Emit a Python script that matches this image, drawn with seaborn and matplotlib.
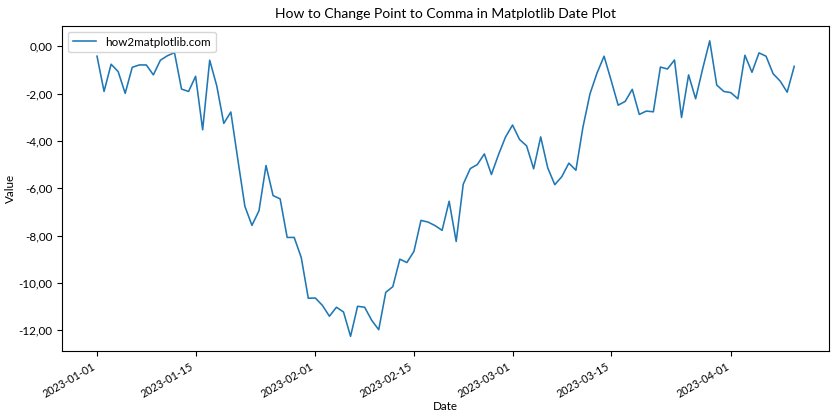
import matplotlib
matplotlib.use("Agg")
import matplotlib.pyplot as plt
import matplotlib.ticker as mticker
import pandas as pd
import seaborn as sns

# daily values, starting 2023-01-01
start_date = "2023-01-01"
values = [
    -0.42, -1.91, -0.76, -1.07, -1.99, -0.89, -0.79, -0.79, -1.21, -0.59,
    -0.40, -0.27, -1.81, -1.91, -1.27, -3.53, -0.59, -1.67, -3.26, -2.78,
    -4.80, -6.77, -7.57, -6.95, -5.04, -6.31, -6.45, -8.08, -8.08, -8.93,
    -10.65, -10.64, -10.95, -11.41, -11.03, -11.23, -12.26, -10.99, -11.03, -11.58,
    -11.98, -10.40, -10.16, -9.00, -9.14, -8.67, -7.36, -7.43, -7.58, -7.78,
    -6.55, -8.25, -5.83, -5.17, -5.00, -4.55, -5.42, -4.59, -3.84, -3.33,
    -3.94, -4.21, -5.18, -3.83, -5.14, -5.85, -5.51, -4.94, -5.24, -3.42,
    -2.01, -1.13, -0.42, -1.44, -2.49, -2.33, -1.82, -2.88, -2.74, -2.77,
    -0.88, -0.96, -0.58, -3.01, -1.21, -2.22, -0.95, 0.23, -1.64, -1.91,
    -1.96, -2.22, -0.38, -1.10, -0.28, -0.42, -1.16, -1.47, -1.94, -0.85,
]
dates = pd.date_range(start_date, periods=len(values), freq="D")
df = pd.DataFrame({"Date": dates, "Value": values})

plt.rcParams["font.family"] = ["Lato", "DejaVu Sans"]
plt.rcParams["font.size"] = 8.4
plt.rcParams["axes.linewidth"] = 0.8

fig, ax = plt.subplots(figsize=(8.4, 4.2), dpi=100)
sns.lineplot(data=df, x="Date", y="Value", ax=ax, color="#1f77b4",
             linewidth=1.15, label="how2matplotlib.com")

ax.yaxis.set_major_formatter(
    mticker.FuncFormatter(lambda v, pos: f"{v:.2f}".replace(".", ",")))
ax.set_title("How to Change Point to Comma in Matplotlib Date Plot", fontsize=10)
ax.set_xlabel("Date", labelpad=1)
ax.set_ylabel("Value", labelpad=2)
ax.legend(loc="upper left", fontsize=8.4)
fig.autofmt_xdate()
ax.tick_params(axis="x", labelsize=7.8)
fig.subplots_adjust(left=0.074, right=0.987, top=0.938, bottom=0.164)
plt.savefig("out.png", dpi=100)
